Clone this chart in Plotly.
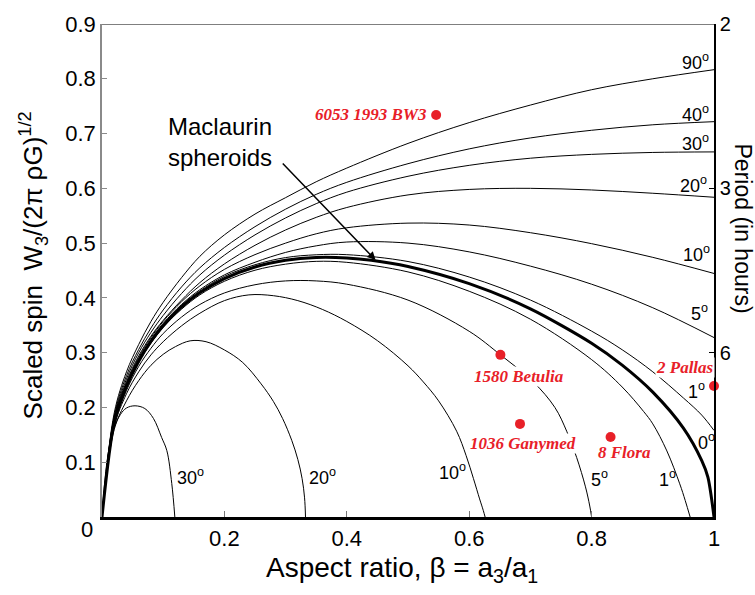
import plotly.graph_objects as go

# ---------------- data ----------------
# Maclaurin spheroids (thick curve)
mac_beta = [0, 0.02, 0.04, 0.06, 0.08, 0.10, 0.13, 0.16, 0.20, 0.25, 0.30, 0.35, 0.40, 0.44, 0.50, 0.60, 0.70, 0.80, 0.85, 0.90, 0.95, 0.98, 0.99, 1.0]
mac_w    = [0, 0.1728, 0.2383, 0.2845, 0.3204, 0.3493, 0.3834, 0.4096, 0.4353, 0.4565, 0.4686, 0.4737, 0.4729, 0.4688, 0.4574, 0.4261, 0.3801, 0.3173, 0.2773, 0.2280, 0.1623, 0.1030, 0.0729, 0]

# upper limit curves (friction angle)
up_beta = [0, 0.02, 0.04, 0.06, 0.08, 0.10, 0.13, 0.16, 0.20, 0.25, 0.30, 0.35, 0.40, 0.50, 0.60, 0.70, 0.80, 0.90, 1.0]
up90_w = [0, 0.190, 0.265, 0.315, 0.357, 0.392, 0.437, 0.476, 0.515, 0.553, 0.583, 0.612, 0.637, 0.682, 0.720, 0.752, 0.780, 0.800, 0.8166]
up40_w = [0, 0.185, 0.258, 0.306, 0.345, 0.378, 0.420, 0.455, 0.492, 0.530, 0.562, 0.589, 0.611, 0.645, 0.672, 0.692, 0.706, 0.716, 0.7217]
up30_w = [0, 0.182, 0.252, 0.300, 0.337, 0.368, 0.408, 0.442, 0.478, 0.515, 0.546, 0.572, 0.593, 0.622, 0.642, 0.655, 0.662, 0.6655, 0.6665]
up20_w = [0, 0.180, 0.247, 0.294, 0.330, 0.359, 0.396, 0.428, 0.462, 0.496, 0.524, 0.547, 0.565, 0.588, 0.598, 0.600, 0.597, 0.591, 0.5837]
up10_w = [0, 0.178, 0.2445, 0.291, 0.3275, 0.357, 0.393, 0.422, 0.452, 0.479, 0.500, 0.517, 0.528, 0.5365, 0.533, 0.519, 0.499, 0.474, 0.4446]
up5_w  = [0, 0.176, 0.2415, 0.2885, 0.3245, 0.3535, 0.388, 0.415, 0.442, 0.465, 0.483, 0.495, 0.502, 0.500, 0.484, 0.458, 0.425, 0.382, 0.3276]

up1_beta = [0, 0.02, 0.04, 0.06, 0.08, 0.10, 0.13, 0.16, 0.20, 0.25, 0.30, 0.35, 0.40, 0.50, 0.60, 0.70, 0.80, 0.85, 0.90, 0.95, 0.98, 1.0]
up1_w    = [0, 0.1738, 0.2393, 0.2865, 0.3224, 0.3513, 0.3864, 0.4126, 0.4393, 0.4605, 0.4736, 0.4787, 0.4789, 0.4664, 0.4381, 0.3961, 0.3393, 0.3053, 0.265, 0.2173, 0.186, 0.158]

# lower limit curves (friction angle)
lo1_beta = [0, 0.02, 0.04, 0.06, 0.08, 0.10, 0.13, 0.16, 0.20, 0.25, 0.30, 0.35, 0.40, 0.50, 0.60, 0.70, 0.80, 0.85, 0.885, 0.90, 0.923, 0.944, 0.953, 0.961]
lo1_w    = [0, 0.1718, 0.2363, 0.2825, 0.3174, 0.3463, 0.3794, 0.4056, 0.4303, 0.4505, 0.4616, 0.4667, 0.4649, 0.4474, 0.4121, 0.3611, 0.2873, 0.2373, 0.1926, 0.170, 0.1206, 0.0606, 0.030, 0]

lo5_beta = [0, 0.02, 0.04, 0.06, 0.08, 0.10, 0.13, 0.16, 0.20, 0.25, 0.30, 0.35, 0.40, 0.50, 0.60, 0.6514, 0.7048, 0.74, 0.7593, 0.7756, 0.79, 0.797, 0.80]
lo5_w    = [0, 0.168, 0.231, 0.275, 0.308, 0.335, 0.365, 0.388, 0.409, 0.424, 0.431, 0.431, 0.425, 0.396, 0.339, 0.2957, 0.2466, 0.200, 0.1566, 0.1086, 0.055, 0.020, 0]

lo10_beta = [0, 0.02, 0.04, 0.06, 0.08, 0.10, 0.13, 0.16, 0.20, 0.24, 0.28, 0.32, 0.36, 0.40, 0.45, 0.50, 0.525, 0.55, 0.5795, 0.595, 0.607, 0.617, 0.623, 0.626]
lo10_w    = [0, 0.165, 0.225, 0.265, 0.296, 0.320, 0.349, 0.372, 0.395, 0.4055, 0.404, 0.395, 0.379, 0.357, 0.322, 0.276, 0.2466, 0.212, 0.1566, 0.112, 0.070, 0.033, 0.012, 0]

lo20_beta = [0, 0.02, 0.04, 0.06, 0.08, 0.10, 0.12, 0.144, 0.17, 0.20, 0.23, 0.26, 0.28, 0.295, 0.31, 0.32, 0.327, 0.331, 0.3325]
lo20_w    = [0, 0.160, 0.212, 0.249, 0.277, 0.297, 0.311, 0.3216, 0.320, 0.305, 0.282, 0.243, 0.211, 0.180, 0.140, 0.105, 0.070, 0.035, 0]

lo30_beta = [0, 0.008, 0.018, 0.03, 0.04, 0.054, 0.07, 0.084, 0.0975, 0.106, 0.114, 0.119]
lo30_w    = [0, 0.100, 0.157, 0.187, 0.199, 0.203, 0.198, 0.180, 0.145, 0.121, 0.061, 0]

# asteroids
ast_names = ["6053 1993 BW3", "1580 Betulia", "1036 Ganymed", "8 Flora", "2 Pallas"]
ast_beta  = [0.546, 0.651, 0.683, 0.831, 1.0]
ast_w     = [0.734, 0.296, 0.170, 0.146, 0.239]

# axis ticks
x_ticks = [0.2, 0.4, 0.6, 0.8, 1.0]
x_ticklabels = ["0.2", "0.4", "0.6", "0.8", "1"]
y_ticks = [0.1, 0.2, 0.3, 0.4, 0.5, 0.6, 0.7, 0.8, 0.9]
y_ticklabels = ["0.1", "0.2", "0.3", "0.4", "0.5", "0.6", "0.7", "0.8", "0.9"]
period_ticks = [0.3, 0.6, 0.9]
period_labels = ["6", "3", "2"]

# ---------------- figure ----------------
RED = "rgb(232,32,40)"
FONT = "Liberation Sans, Arial, Helvetica, sans-serif"
SERIF = "Liberation Serif, Times New Roman, serif"

fig = go.Figure()

thin_curves = [
    (up_beta, up90_w), (up_beta, up40_w), (up_beta, up30_w), (up_beta, up20_w),
    (up_beta, up10_w), (up_beta, up5_w), (up1_beta, up1_w),
    (lo1_beta, lo1_w), (lo5_beta, lo5_w), (lo10_beta, lo10_w), (lo20_beta, lo20_w), (lo30_beta, lo30_w),
]
for b, w in thin_curves:
    fig.add_trace(go.Scatter(x=b, y=w, mode="lines", line=dict(color="black", width=1, shape="spline", smoothing=1.0),
                             hoverinfo="skip", showlegend=False))

fig.add_trace(go.Scatter(x=mac_beta, y=mac_w, mode="lines", line=dict(color="black", width=3, shape="spline", smoothing=0.8),
                         hoverinfo="skip", showlegend=False))

fig.add_trace(go.Scatter(x=ast_beta, y=ast_w, mode="markers", yaxis="y2",
                         marker=dict(color=RED, size=10, line=dict(width=0)),
                         cliponaxis=False, hoverinfo="skip", showlegend=False))

annotations = []

# asteroid labels (x, y centre in data units)
ast_label_pos = [(0.4395, 0.7352), (0.6814, 0.2574), (0.688, 0.135), (0.853, 0.117), (0.952, 0.2736)]
for name, (lx, ly) in zip(ast_names, ast_label_pos):
    annotations.append(dict(x=lx, y=ly, xref="x", yref="y", text="<b><i>%s</i></b>" % name, showarrow=False,
                            font=dict(family=SERIF, size=17, color=RED), bgcolor="white", borderpad=0,
                            xanchor="center", yanchor="middle"))

# friction angle labels
deg_labels = [
    ("90", 0.969, 0.8315), ("40", 0.969, 0.7362), ("30", 0.969, 0.684), ("20", 0.9657, 0.6066),
    ("10", 0.9722, 0.4806), ("5", 0.977, 0.3726), ("1", 0.9706, 0.2304), ("0", 0.987, 0.1386),
    ("1", 0.9248, 0.0702), ("5", 0.8137, 0.0702), ("10", 0.5719, 0.0828), ("20", 0.3595, 0.0738),
    ("30", 0.1438, 0.0738),
]
for t, lx, ly in deg_labels:
    annotations.append(dict(x=lx, y=ly, xref="x", yref="y", text="%s<sup>o</sup>" % t, showarrow=False,
                            font=dict(family=FONT, size=18, color="black"), xanchor="center", yanchor="middle"))

# Maclaurin spheroids text + arrow
annotations.append(dict(x=0.193, y=0.684, xref="x", yref="y", text="Maclaurin<br>spheroids", showarrow=False,
                        align="left", font=dict(family=FONT, size=24, color="black"),
                        xanchor="center", yanchor="middle"))
annotations.append(dict(x=0.447, y=0.469, xref="x", yref="y", ax=0.293, ay=0.648, axref="x", ayref="y",
                        text="", showarrow=True, arrowhead=2, arrowsize=1.1, arrowwidth=1.5, arrowcolor="black"))

# corner zero
annotations.append(dict(x=-0.0237, y=-0.025, xref="paper", yref="paper", text="0", showarrow=False,
                        font=dict(family=FONT, size=22, color="black"), xanchor="center", yanchor="middle"))

# axis titles
annotations.append(dict(x=0.49, y=-0.066, xref="paper", yref="paper",
                        text="Aspect ratio, β = a<sub>3</sub>/a<sub>1</sub>", showarrow=False,
                        font=dict(family=FONT, size=28, color="black"), xanchor="center", yanchor="top"))
annotations.append(dict(x=-0.113, y=0.51, xref="paper", yref="paper",
                        text="Scaled spin\u00a0\u00a0W<sub>3</sub>/(2π ρG)<sup>1/2</sup>", showarrow=False, textangle=-90,
                        font=dict(family=FONT, size=26, color="black"), xanchor="center", yanchor="middle"))
annotations.append(dict(x=1.0475, y=0.585, xref="paper", yref="paper",
                        text="Period (in hours)", showarrow=False, textangle=90,
                        font=dict(family=FONT, size=23, color="black"), xanchor="center", yanchor="middle"))

TICKFONT = dict(size=22, family=FONT, color="black")
fig.update_layout(
    width=755, height=595,
    margin=dict(l=102, r=41, t=17, b=78),
    plot_bgcolor="white", paper_bgcolor="white",
    font=dict(family=FONT, color="black"),
    xaxis=dict(range=[0, 1], showgrid=False, zeroline=False, showline=True, linecolor="black", linewidth=3,
               ticks="inside", ticklen=6, tickcolor="#777", tickwidth=1,
               tickvals=x_ticks, ticktext=x_ticklabels, tickfont=TICKFONT),
    yaxis=dict(range=[0, 0.9], showgrid=False, zeroline=False, showline=True, linecolor="#8a8a8a", linewidth=1.5,
               ticks="inside", ticklen=5, tickcolor="#8a8a8a", tickwidth=1,
               tickvals=y_ticks, ticktext=y_ticklabels, tickfont=TICKFONT),
    yaxis2=dict(range=[0, 0.9], overlaying="y", side="right", showgrid=False, zeroline=False,
                showline=True, linecolor="black", linewidth=1.5, ticks="inside", ticklen=5, tickcolor="black",
                tickvals=period_ticks, ticktext=period_labels, tickfont=dict(size=20, family=FONT, color="black")),
    shapes=[dict(type="line", xref="x", yref="y", x0=0, x1=1, y0=0.9, y1=0.9, line=dict(color="black", width=1))],
    annotations=annotations,
)

fig.write_html("out.html")
